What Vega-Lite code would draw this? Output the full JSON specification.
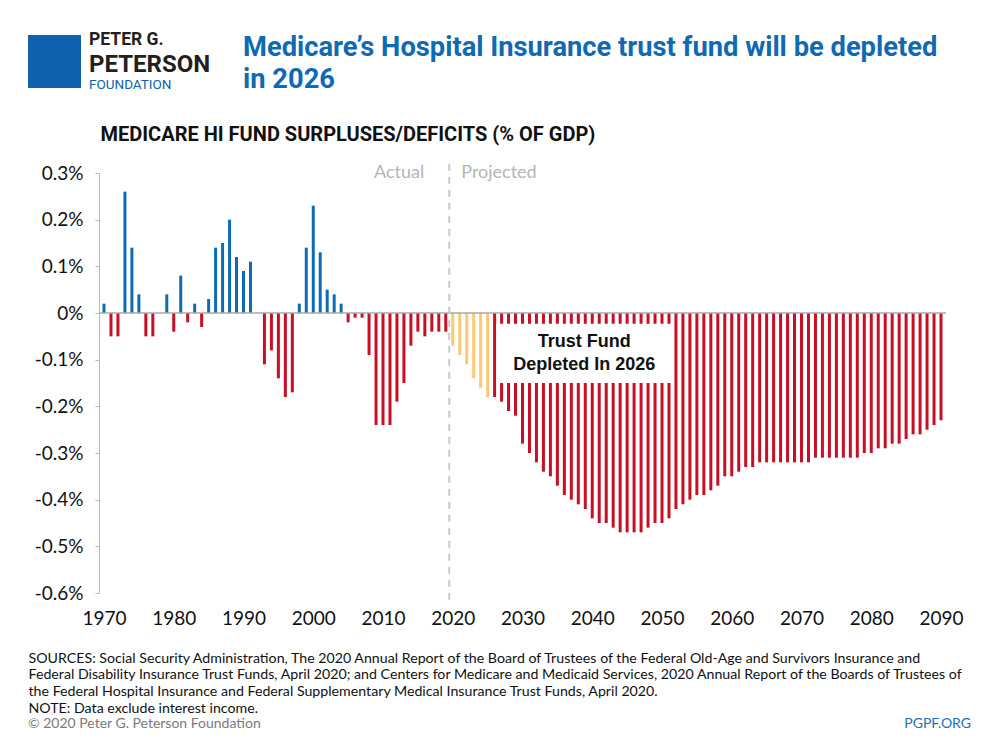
{
  "$schema": "https://vega.github.io/schema/vega-lite/v6.json",
  "width": 847,
  "height": 420,
  "autosize": {"type": "none"},
  "padding": {"left": 99, "top": 173, "right": 54, "bottom": 157},
  "background": "white",
  "config": {"view": {"stroke": null}, "font": "Lato"},
  "title": {
    "text": ["Medicare’s Hospital Insurance trust fund will be depleted", "in 2026"],
    "anchor": "start",
    "frame": "group",
    "dx": 144,
    "dy": 62,
    "color": "#0f6ab4",
    "font": "Roboto",
    "fontWeight": "bold",
    "fontSize": 27.3,
    "lineHeight": 32,
    "baseline": "top",
    "offset": 0
  },
  "layer": [
    {
      "data": {
        "values": [
          {"year": 1970, "value": 0.02}, {"year": 1971, "value": -0.05}, {"year": 1972, "value": -0.05},
          {"year": 1973, "value": 0.26}, {"year": 1974, "value": 0.14}, {"year": 1975, "value": 0.04},
          {"year": 1976, "value": -0.05}, {"year": 1977, "value": -0.05}, {"year": 1978, "value": 0},
          {"year": 1979, "value": 0.04}, {"year": 1980, "value": -0.04}, {"year": 1981, "value": 0.08},
          {"year": 1982, "value": -0.02}, {"year": 1983, "value": 0.02}, {"year": 1984, "value": -0.03},
          {"year": 1985, "value": 0.03}, {"year": 1986, "value": 0.14}, {"year": 1987, "value": 0.15},
          {"year": 1988, "value": 0.20}, {"year": 1989, "value": 0.12}, {"year": 1990, "value": 0.09},
          {"year": 1991, "value": 0.11}, {"year": 1992, "value": 0}, {"year": 1993, "value": -0.11},
          {"year": 1994, "value": -0.08}, {"year": 1995, "value": -0.14}, {"year": 1996, "value": -0.18},
          {"year": 1997, "value": -0.17}, {"year": 1998, "value": 0.02}, {"year": 1999, "value": 0.14},
          {"year": 2000, "value": 0.23}, {"year": 2001, "value": 0.13}, {"year": 2002, "value": 0.05},
          {"year": 2003, "value": 0.04}, {"year": 2004, "value": 0.02}, {"year": 2005, "value": -0.02},
          {"year": 2006, "value": -0.01}, {"year": 2007, "value": -0.01}, {"year": 2008, "value": -0.09},
          {"year": 2009, "value": -0.24}, {"year": 2010, "value": -0.24}, {"year": 2011, "value": -0.24},
          {"year": 2012, "value": -0.19}, {"year": 2013, "value": -0.15}, {"year": 2014, "value": -0.07},
          {"year": 2015, "value": -0.04}, {"year": 2016, "value": -0.05}, {"year": 2017, "value": -0.04},
          {"year": 2018, "value": -0.04}, {"year": 2019, "value": -0.04}, {"year": 2020, "value": -0.07},
          {"year": 2021, "value": -0.09}, {"year": 2022, "value": -0.11}, {"year": 2023, "value": -0.14},
          {"year": 2024, "value": -0.16}, {"year": 2025, "value": -0.18}, {"year": 2026, "value": -0.18},
          {"year": 2027, "value": -0.19}, {"year": 2028, "value": -0.21}, {"year": 2029, "value": -0.22},
          {"year": 2030, "value": -0.28}, {"year": 2031, "value": -0.30}, {"year": 2032, "value": -0.32},
          {"year": 2033, "value": -0.34}, {"year": 2034, "value": -0.35}, {"year": 2035, "value": -0.37},
          {"year": 2036, "value": -0.39}, {"year": 2037, "value": -0.40}, {"year": 2038, "value": -0.41},
          {"year": 2039, "value": -0.42}, {"year": 2040, "value": -0.44}, {"year": 2041, "value": -0.45},
          {"year": 2042, "value": -0.45}, {"year": 2043, "value": -0.46}, {"year": 2044, "value": -0.47},
          {"year": 2045, "value": -0.47}, {"year": 2046, "value": -0.47}, {"year": 2047, "value": -0.47},
          {"year": 2048, "value": -0.46}, {"year": 2049, "value": -0.45}, {"year": 2050, "value": -0.45},
          {"year": 2051, "value": -0.44}, {"year": 2052, "value": -0.42}, {"year": 2053, "value": -0.41},
          {"year": 2054, "value": -0.40}, {"year": 2055, "value": -0.39}, {"year": 2056, "value": -0.39},
          {"year": 2057, "value": -0.38}, {"year": 2058, "value": -0.37}, {"year": 2059, "value": -0.35},
          {"year": 2060, "value": -0.35}, {"year": 2061, "value": -0.34}, {"year": 2062, "value": -0.33},
          {"year": 2063, "value": -0.33}, {"year": 2064, "value": -0.32}, {"year": 2065, "value": -0.32},
          {"year": 2066, "value": -0.32}, {"year": 2067, "value": -0.32}, {"year": 2068, "value": -0.32},
          {"year": 2069, "value": -0.32}, {"year": 2070, "value": -0.32}, {"year": 2071, "value": -0.32},
          {"year": 2072, "value": -0.31}, {"year": 2073, "value": -0.31}, {"year": 2074, "value": -0.31},
          {"year": 2075, "value": -0.31}, {"year": 2076, "value": -0.31}, {"year": 2077, "value": -0.31},
          {"year": 2078, "value": -0.31}, {"year": 2079, "value": -0.30}, {"year": 2080, "value": -0.30},
          {"year": 2081, "value": -0.29}, {"year": 2082, "value": -0.29}, {"year": 2083, "value": -0.28},
          {"year": 2084, "value": -0.28}, {"year": 2085, "value": -0.27}, {"year": 2086, "value": -0.26},
          {"year": 2087, "value": -0.26}, {"year": 2088, "value": -0.25}, {"year": 2089, "value": -0.24},
          {"year": 2090, "value": -0.23}
        ]
      },
      "mark": {"type": "bar", "size": 3},
      "encoding": {
        "x": {
          "field": "year",
          "type": "quantitative",
          "scale": {"domain": [1970, 2090], "nice": false, "zero": false},
          "axis": {
            "values": [1970, 1980, 1990, 2000, 2010, 2020, 2030, 2040, 2050, 2060, 2070, 2080, 2090],
            "format": "d",
            "domain": false,
            "ticks": false,
            "grid": false,
            "labelFontSize": 19,
            "labelColor": "#111111",
            "labelFont": "Lato",
            "labelBaseline": "alphabetic",
            "labelPadding": 31,
            "labelFlush": false,
            "title": [
              "SOURCES: Social Security Administration, The 2020 Annual Report of the Board of Trustees of the Federal Old-Age and Survivors Insurance and",
              "Federal Disability Insurance Trust Funds, April 2020; and Centers for Medicare and Medicaid Services, 2020 Annual Report of the Boards of Trustees of",
              "the Federal Hospital Insurance and Federal Supplementary Medical Insurance Trust Funds, April 2020.",
              "NOTE: Data exclude interest income."
            ],
            "titleX": -71,
            "titleY": 69,
            "titleAlign": "left",
            "titleAnchor": "start",
            "titleBaseline": "alphabetic",
            "titleFont": "Lato",
            "titleFontSize": 14.2,
            "titleFontWeight": "normal",
            "titleLineHeight": 16.7,
            "titleColor": "#111111"
          }
        },
        "y": {
          "field": "value",
          "type": "quantitative",
          "scale": {"domain": [-0.6, 0.3], "nice": false},
          "axis": {
            "values": [-0.6, -0.5, -0.4, -0.3, -0.2, -0.1, 0, 0.1, 0.2, 0.3],
            "labelExpr": "datum.value == 0 ? '0%' : (datum.value < 0 ? '-' : '') + format(abs(datum.value), '.1f') + '%'",
            "grid": false,
            "domainColor": "#bbbbbb",
            "tickColor": "#bbbbbb",
            "tickSize": 4,
            "labelFontSize": 19,
            "labelColor": "#111111",
            "labelFont": "Lato",
            "labelPadding": 12,
            "labelBaseline": "middle",
            "title": "MEDICARE HI FUND SURPLUSES/DEFICITS (% OF GDP)",
            "titleAngle": 0,
            "titleX": 1,
            "titleY": -33,
            "titleAlign": "left",
            "titleAnchor": "start",
            "titleBaseline": "alphabetic",
            "titleFont": "Roboto",
            "titleFontWeight": "bold",
            "titleFontSize": 20,
            "titleColor": "#111111"
          }
        },
        "color": {
          "condition": [
            {"test": "datum.value > 0", "value": "#0e6cb6"},
            {"test": "datum.year >= 2020 && datum.year <= 2025", "value": "#ffc875"}
          ],
          "value": "#c70f25"
        }
      }
    },
    {
      "data": {"values": [{}]},
      "mark": {"type": "rect", "fill": "white"},
      "encoding": {
        "x": {"datum": 2026.25, "type": "quantitative"},
        "x2": {"datum": 2051.5},
        "y": {"datum": -0.023, "type": "quantitative"},
        "y2": {"datum": -0.15}
      }
    },
    {
      "data": {"values": [{}]},
      "mark": {
        "type": "text",
        "text": ["Trust Fund", "Depleted In 2026"],
        "font": "Liberation Sans",
        "fontWeight": "bold",
        "fontSize": 18,
        "lineHeight": 23,
        "align": "center",
        "baseline": "middle",
        "color": "#111111"
      },
      "encoding": {
        "x": {"datum": 2038.85, "type": "quantitative"},
        "y": {"datum": -0.063, "type": "quantitative"}
      }
    },
    {
      "data": {"values": [{}]},
      "mark": {"type": "rule", "color": "#aaaaaa", "strokeWidth": 1.5},
      "encoding": {"y": {"datum": 0, "type": "quantitative"}}
    },
    {
      "data": {"values": [{}]},
      "mark": {"type": "rule", "color": "#c8c8c8", "strokeWidth": 2, "strokeDash": [7, 6]},
      "encoding": {
        "x": {"datum": 2019.5, "type": "quantitative"},
        "y": {"datum": 0.32, "type": "quantitative"},
        "y2": {"datum": -0.615}
      }
    },
    {
      "data": {"values": [{}]},
      "mark": {"type": "text", "text": "Actual", "align": "right", "baseline": "middle", "dx": -25, "fontSize": 18, "font": "Lato", "color": "#b5b5b5"},
      "encoding": {
        "x": {"datum": 2019.5, "type": "quantitative"},
        "y": {"datum": 0.3, "type": "quantitative"}
      }
    },
    {
      "data": {"values": [{}]},
      "mark": {"type": "text", "text": "Projected", "align": "left", "baseline": "middle", "dx": 12, "fontSize": 18, "font": "Lato", "color": "#b5b5b5"},
      "encoding": {
        "x": {"datum": 2019.5, "type": "quantitative"},
        "y": {"datum": 0.3, "type": "quantitative"}
      }
    },
    {
      "data": {"values": [{}]},
      "mark": {"type": "rect", "fill": "#0f62ad"},
      "encoding": {
        "x": {"value": -71}, "x2": {"value": -18},
        "y": {"value": -138}, "y2": {"value": -85}
      }
    },
    {
      "data": {"values": [{}]},
      "mark": {"type": "text", "text": "PETER G.", "align": "left", "baseline": "alphabetic", "font": "Roboto", "fontWeight": "bold", "fontSize": 17.5, "color": "#231f20"},
      "encoding": {"x": {"value": -10}, "y": {"value": -128}}
    },
    {
      "data": {"values": [{}]},
      "mark": {"type": "text", "text": "PETERSON", "align": "left", "baseline": "alphabetic", "font": "Roboto", "fontWeight": "bold", "fontSize": 24, "color": "#231f20"},
      "encoding": {"x": {"value": -10}, "y": {"value": -101.5}}
    },
    {
      "data": {"values": [{}]},
      "mark": {"type": "text", "text": "FOUNDATION", "align": "left", "baseline": "alphabetic", "font": "Roboto", "fontSize": 13.5, "color": "#0f62ad"},
      "encoding": {"x": {"value": -10}, "y": {"value": -84.5}}
    },
    {
      "data": {"values": [{}]},
      "mark": {"type": "text", "text": "© 2020 Peter G. Peterson Foundation", "align": "left", "baseline": "alphabetic", "font": "Lato", "fontSize": 14, "color": "#7a7a7a"},
      "encoding": {"x": {"value": -71}, "y": {"value": 555}}
    },
    {
      "data": {"values": [{}]},
      "mark": {"type": "text", "text": "PGPF.ORG", "align": "right", "baseline": "alphabetic", "font": "Lato", "fontSize": 14, "color": "#1a6fb8"},
      "encoding": {"x": {"value": 872}, "y": {"value": 555}}
    }
  ]
}
